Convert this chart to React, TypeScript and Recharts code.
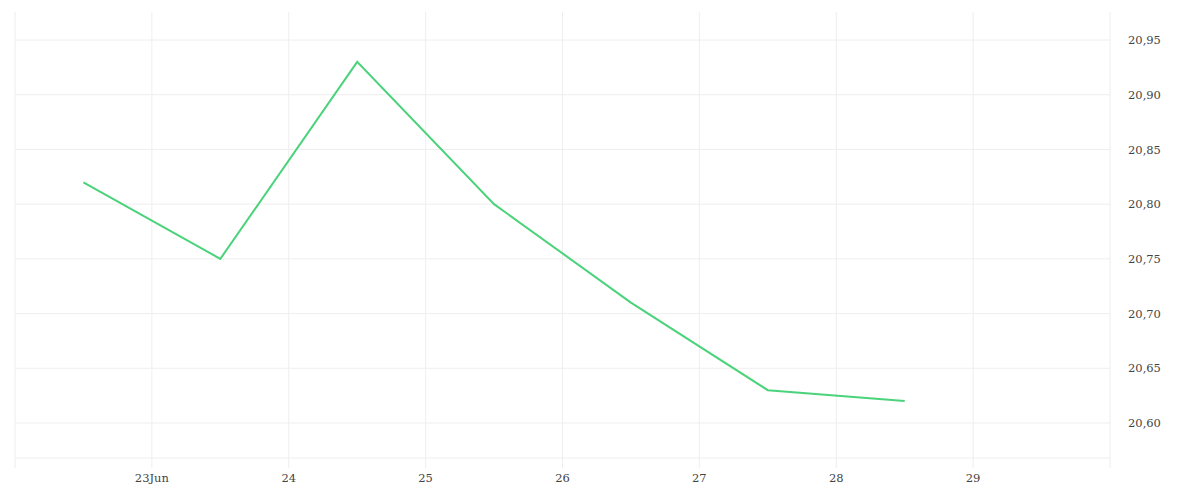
import { LineChart, Line, XAxis, YAxis, CartesianGrid, ReferenceLine } from "recharts";

// days of June (half-day offsets = the candle/bucket centers)
const days = [22.5, 23.5, 24.5, 25.5, 26.5, 27.5, 28.5];
const prices = [20.82, 20.75, 20.93, 20.8, 20.71, 20.63, 20.62];

const dayTicks = [22, 23, 24, 25, 26, 27, 28, 29, 30];
const priceTicks = [20.6, 20.65, 20.7, 20.75, 20.8, 20.85, 20.9, 20.95];

const data = days.map((d, i) => ({ t: d, price: prices[i] }));

const GRID = "#eeeeee";
const INK = "#444444";

function dayLabel(v: number) {
  if (v === 22 || v === 30) return "";
  return v === 23 ? "23Jun" : String(v);
}

export default function App() {
  return (
    <div style={{ position: "absolute", left: 0, top: 0, width: 1200, height: 500, background: "#fff" }}>
      <LineChart width={1200} height={500} data={data} margin={{ top: 12, right: 0, bottom: 0, left: 15 }}>
        {/* vertical rules from the grid; horizontal ones only at the price ticks */}
        <CartesianGrid stroke={GRID} horizontal={false} />
        {priceTicks.map((p) => (
          <ReferenceLine key={p} y={p} stroke={GRID} strokeWidth={1} ifOverflow="hidden" />
        ))}
        <XAxis
          type="number"
          dataKey="t"
          domain={[22, 30]}
          ticks={dayTicks}
          tickFormatter={dayLabel}
          height={42}
          axisLine={{ stroke: GRID }}
          tickLine={{ stroke: GRID }}
          tickSize={10}
          tickMargin={6}
          tick={{ fill: INK, fontSize: 11.5, fontFamily: "DejaVu Serif" }}
        />
        <YAxis
          orientation="right"
          domain={[20.568, 20.9756]}
          allowDataOverflow
          ticks={priceTicks}
          tickFormatter={(v: number) => v.toFixed(2).replace(".", ",")}
          width={90}
          axisLine={false}
          tickLine={false}
          tickMargin={12}
          tick={{ fill: INK, fontSize: 11.5, fontFamily: "DejaVu Serif", textAnchor: "start" }}
        />
        <Line
          type="linear"
          dataKey="price"
          stroke="#4ad37a"
          strokeWidth={2}
          dot={false}
          isAnimationActive={false}
        />
      </LineChart>
    </div>
  );
}
